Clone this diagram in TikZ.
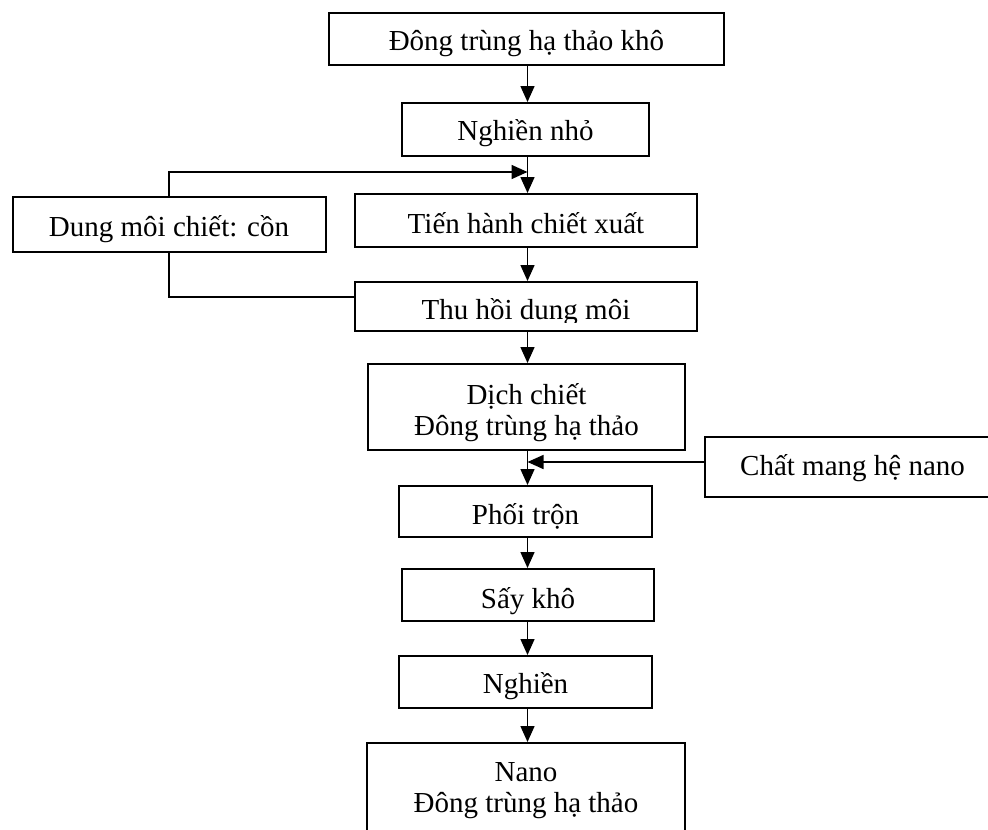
\documentclass[tikz,border=0pt]{standalone}
\usepackage{fontspec}
\setmainfont{Liberation Serif}
\usetikzlibrary{arrows.meta}
\begin{document}
\begin{tikzpicture}[x=1pt,y=-1pt,
  txt/.style={inner sep=0pt, text height=0pt, text depth=0pt, font=\fontsize{29}{31}\selectfont},
  box/.style={txt, draw, line width=2pt, rectangle},
  link/.style={line width=1.5pt},
  arr/.style={link, -{Triangle[length=16pt,width=14pt]}}]
\clip (0,0) rectangle (988,830);
\fill[white] (0,0) rectangle (988,830);

\node[box, minimum width=395pt, minimum height=52pt] (b1) at (526.5,39) {\raisebox{-11.7pt}{Đông trùng hạ thảo khô}};
\node[box, minimum width=247pt, minimum height=53pt] (b2) at (525.5,129.5) {\raisebox{-10.5pt}{Nghiền nhỏ}};
\node[box, minimum width=342pt, minimum height=53pt] (b3) at (526,220.5) {\raisebox{-12.5pt}{Tiến hành chiết xuất}};
\node[box, minimum width=313pt, minimum height=55pt] (dm) at (169,224.5) {\raisebox{-11.5pt}{Dung môi chiết: cồn}};
\node[box, minimum width=342pt, minimum height=49pt] (b4) at (526,306.5) {};
\begin{scope}
  \clip ([xshift=-2pt]b4.north west) rectangle ([xshift=2pt,yshift=10pt]b4.south east);
  \node[txt] (t4) at (526,306.5) {\raisebox{-12.5pt}{Thu hồi dung môi}};
\end{scope}
\node[box, minimum width=317pt, minimum height=86pt] (b5) at (526.5,407) {\raisebox{3pt}{\begin{tabular}[t]{@{}c@{}}Dịch chiết\\Đông trùng hạ thảo\end{tabular}}};
\node[box, minimum width=295pt, minimum height=60pt] (cm) at (852.5,467) {\raisebox{-8pt}{Chất mang hệ nano}};
\node[box, minimum width=253pt, minimum height=51pt] (b6) at (525.5,511.5) {\raisebox{-12.5pt}{Phối trộn}};
\node[box, minimum width=252pt, minimum height=52pt] (b7) at (528,595) {\raisebox{-13pt}{Sấy khô}};
\node[box, minimum width=253pt, minimum height=52pt] (b8) at (525.5,682) {\raisebox{-11pt}{Nghiền}};
\node[box, minimum width=318pt, minimum height=100pt] (b9) at (526,793) {\raisebox{11.3pt}{\begin{tabular}[t]{@{}c@{}}Nano\\Đông trùng hạ thảo\end{tabular}}};

\coordinate (ax) at (527.5,0);
\coordinate (j1) at (527.5,172);
\coordinate (j3) at (527.5,462);

\draw[arr] (ax |- b1.south) -- (ax |- b2.north);
\draw[arr] (ax |- b2.south) -- (ax |- b3.north);
\draw[arr] (dm.north) |- (j1);
\draw[arr] (ax |- b3.south) -- (ax |- b4.north);
\draw[link] (dm.south) |- ([yshift=9.5pt]b4.west);
\draw[arr] (ax |- b4.south) -- (ax |- b5.north);
\draw[arr] (ax |- b5.south) -- (ax |- b6.north);
\draw[arr] ([yshift=5pt]cm.west) -- (j3);
\draw[arr] (ax |- b6.south) -- (ax |- b7.north);
\draw[arr] (ax |- b7.south) -- (ax |- b8.north);
\draw[arr] (ax |- b8.south) -- (ax |- b9.north);
\end{tikzpicture}
\end{document}
